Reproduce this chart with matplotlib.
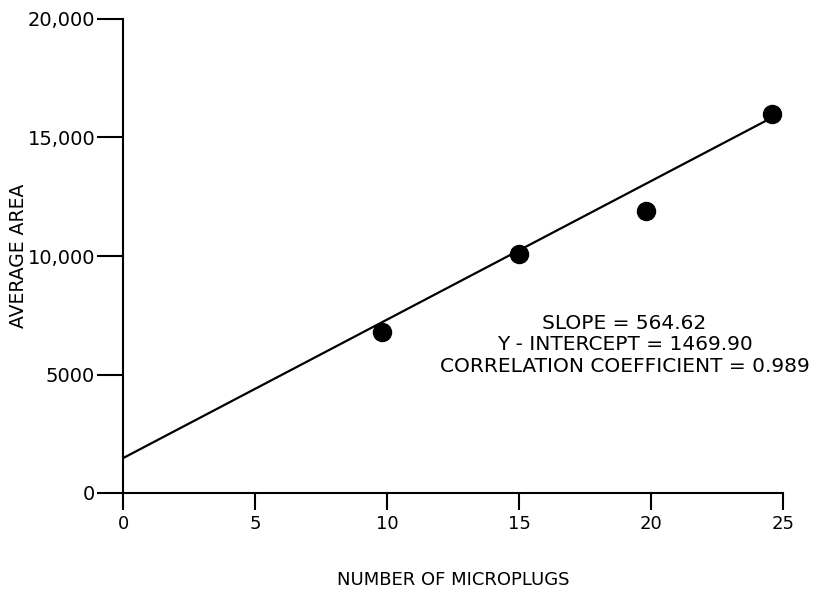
import matplotlib
matplotlib.use("Agg")
import matplotlib.pyplot as plt

# Data
microplugs = [9.8, 15.0, 19.8, 24.6]
avg_area = [6800, 10100, 11900, 16000]
fit_x = [0, 24.6]
fit_y = [1470, 15850]
xticks = [0, 5, 10, 15, 20, 25]
yticks = [0, 5000, 10000, 15000, 20000]
ytick_labels = ["0", "5000", "10,000", "15,000", "20,000"]
annotation = ["SLOPE = 564.62", "Y - INTERCEPT = 1469.90", "CORRELATION COEFFICIENT = 0.989"]

plt.rcParams['font.family'] = ['DejaVu Sans']

fig = plt.figure(figsize=(8.13, 5.96), dpi=100)
ax = fig.add_axes([123/813, 1-493/596, (783-123)/813, (493-19)/596])

ax.plot(fit_x, fit_y, color='black', lw=1.6, solid_capstyle='butt')
ax.plot(microplugs, avg_area, 'o', color='black', ms=13, clip_on=False)

ax.set_xlim(0, 25)
ax.set_ylim(0, 20000)
ax.set_xticks(xticks)
ax.set_xticklabels([str(t) for t in xticks])
ax.set_yticks(yticks)
ax.set_yticklabels(ytick_labels)
for s in ['top', 'right']:
    ax.spines[s].set_visible(False)
for s in ['left', 'bottom']:
    ax.spines[s].set_linewidth(1.5)
ax.tick_params(axis='y', direction='out', length=19, width=1.5, labelsize=14, pad=1)
ax.tick_params(axis='x', direction='out', length=12, width=1.5, labelsize=13, pad=4)

ax.set_xlabel("NUMBER OF MICROPLUGS", fontsize=13)
ax.xaxis.set_label_coords(0.5, -0.1835)
ax.xaxis.label.set_verticalalignment('center')
ax.set_ylabel("AVERAGE AREA", fontsize=13.5)
ax.yaxis.set_label_coords(-0.159, 0.5)
ax.yaxis.label.set_verticalalignment('center')

ax.text(19.0, 6250, "\n".join(annotation), ha='center', va='center',
        fontsize=14.5, linespacing=1.15)

fig.savefig("out.png", dpi=100)
